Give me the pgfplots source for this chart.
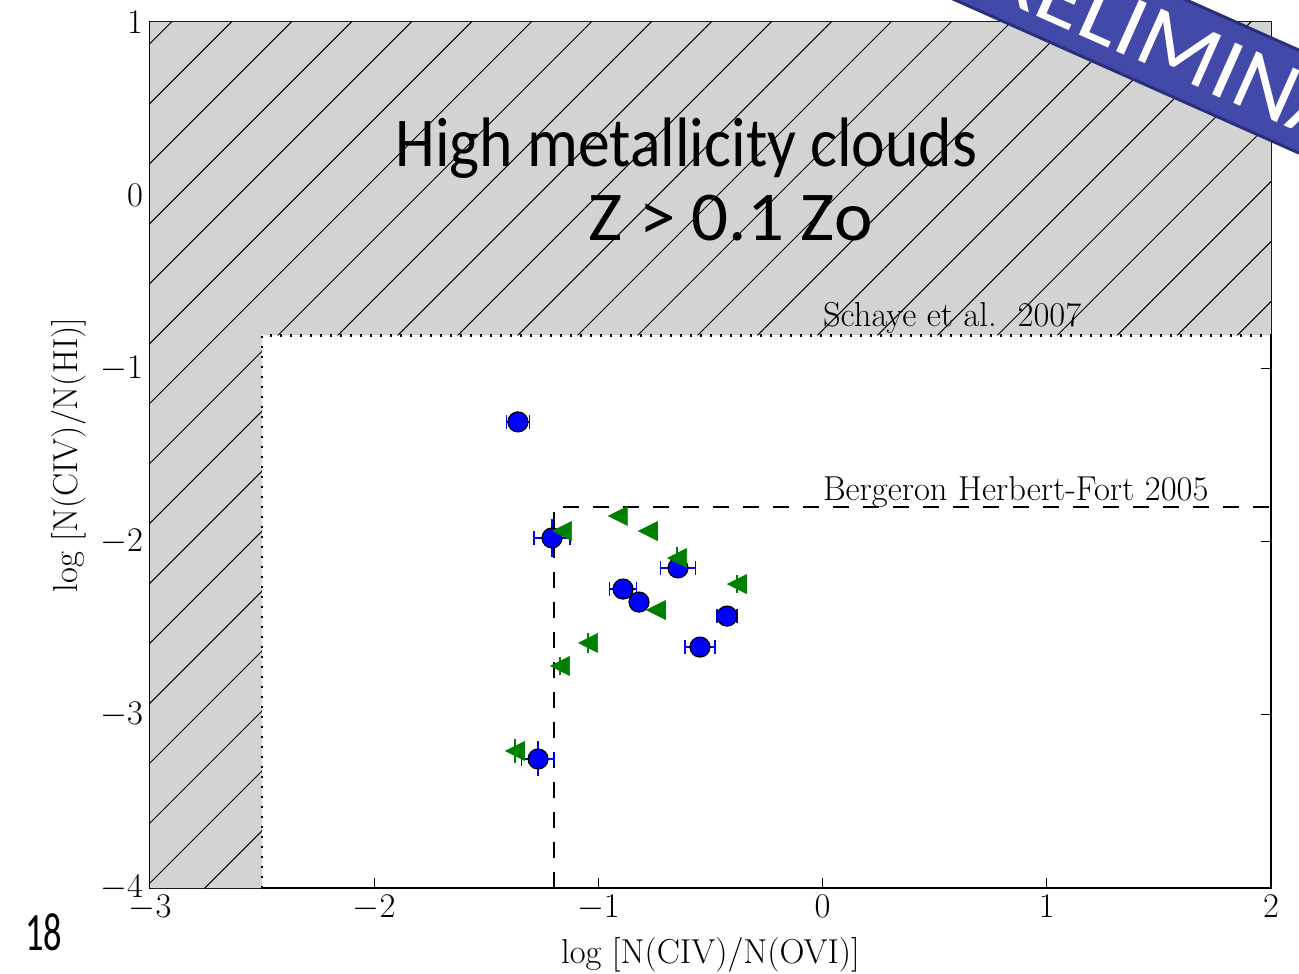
\documentclass[border=0pt]{standalone}
\usepackage{pgfplots}
\pgfplotsset{compat=1.18}
\usepackage{pgfplotstable}
\usepackage{fontspec}
\usepackage{graphicx}
\newfontfamily\gill{Carlito}
\usetikzlibrary{patterns.meta}

\definecolor{hatchgray}{RGB}{211,211,211}
\definecolor{mplgreen}{RGB}{0,128,0}
\definecolor{bannerblue}{RGB}{67,73,169}
\definecolor{bannerdark}{RGB}{42,47,125}

\pgfdeclareplotmark{mpltri}{%
  \pgfpathmoveto{\pgfqpoint{-\pgfplotmarksize}{0pt}}%
  \pgfpathlineto{\pgfqpoint{\pgfplotmarksize}{\pgfplotmarksize}}%
  \pgfpathlineto{\pgfqpoint{\pgfplotmarksize}{-\pgfplotmarksize}}%
  \pgfpathclose
  \pgfusepathqfillstroke}

\pgfplotstableread{
x      y       ex     ey
-1.359 -1.309  0.052  0
-1.207 -1.979  0.080  0.072
-0.645 -2.152  0.078  0
-0.890 -2.274  0.060  0
-0.819 -2.349  0.030  0
-0.426 -2.430  0.045  0
-0.547 -2.609  0.067  0
-1.269 -3.255  0.074  0.063
}\bluedata

\pgfplotstableread{
x      y       ey
-1.162 -1.939  0
-0.913 -1.852  0
-0.779 -1.939  0
-0.649 -2.095  0.065
-0.382 -2.245  0.050
-0.743 -2.395  0
-1.046 -2.585  0.058
-1.171 -2.718  0.050
-1.372 -3.209  0.070
}\greendata

\begin{document}
\begin{tikzpicture}
\begin{axis}[
  at={(0,0)}, anchor=south west,
  scale only axis, width=560.5pt, height=433pt,
  xmin=-3, xmax=2, ymin=-4, ymax=1,
  xtick={-3,-2,...,2}, ytick={-4,-3,...,1},
  tick align=inside, major tick length=5pt,
  every tick/.style={black, line width=0.5pt},
  axis line style={line width=1pt},
  tick label style={font=\fontsize{17.3}{20}\selectfont},
  label style={font=\fontsize{17.3}{20}\selectfont},
  xlabel={log [N(CIV)/N(OVI)]},
  ylabel={log [N(CIV)/N(HI)]},
  xlabel style={yshift=-2pt},
]
% hatched excluded region
\addplot[draw=none, fill=hatchgray, forget plot,
  postaction={pattern={Lines[angle=45,distance=21.2pt,line width=0.5pt]}}]
  coordinates {(-3,-4) (-2.5,-4) (-2.5,-0.81) (2,-0.81) (2,1) (-3,1)} -- cycle;
% Schaye dotted
\addplot[black, line width=1.1pt, dash pattern=on 1.1pt off 3.9pt, forget plot]
  coordinates {(-2.5,-4) (-2.5,-0.81) (2,-0.81)};
% Bergeron dashed
\addplot[black, line width=1pt, dash pattern=on 8pt off 7pt, forget plot]
  coordinates {(-1.2,-4) (-1.2,-1.8) (2,-1.8)};

\node[anchor=base west, inner sep=0, font=\fontsize{17.3}{20}\selectfont] at (axis cs:0,-0.76) {Schaye et al.\ \ 2007};
\node[anchor=base west, inner sep=0, font=\fontsize{17.3}{20}\selectfont] at (axis cs:0,-1.76) {Bergeron\ Herbert-Fort\ 2005};

% blue x error bars
\addplot[only marks, mark=none, forget plot,
  error bars/.cd, x dir=both, x explicit,
  error bar style={blue, line width=0.75pt},
  error mark=|, error mark options={blue, mark size=3.3pt, line width=0.75pt}]
  table[x=x, y=y, x error=ex] {\bluedata};
% blue y error bars
\addplot[only marks, mark=none, forget plot,
  error bars/.cd, y dir=both, y explicit,
  error bar style={blue, line width=0.75pt},
  error mark=-, error mark options={blue, mark size=3.3pt, line width=0.75pt}]
  table[x=x, y=y, y error=ey] {\bluedata};
% blue circles
\addplot[only marks, mark=*, mark size=5pt,
  mark options={fill=blue, draw=black, line width=0.6pt}]
  table[x=x, y=y] {\bluedata};

% green triangles
\addplot[only marks, mark=mpltri, mark size=4.75pt,
  mark options={fill=mplgreen, draw=mplgreen, line width=0.3pt},
  error bars/.cd, y dir=both, y explicit,
  error bar style={mplgreen, line width=1pt}, error mark=none]
  table[x=x, y=y, y error=ey] {\greendata};

\node[anchor=base west, inner sep=0] at (axis cs:-1.907,0.163)
  {\resizebox{291pt}{\height}{\gill\fontsize{35}{40}\selectfont High metallicity clouds}};
\node[anchor=base west, inner sep=0] at (axis cs:-1.046,-0.259)
  {\resizebox{142pt}{\height}{\gill\fontsize{35}{40}\selectfont Z > 0.1 Zo}};
\end{axis}

\node[anchor=base west, inner sep=0] at (-62.5pt,-31pt)
  {\resizebox{18.5pt}{\height}{\gill\fontsize{27}{30}\selectfont 18}};

\begin{scope}
\clip (-75pt,-42.5pt) rectangle (574.5pt,444pt);
\node[rotate=-24, fill=bannerblue, draw=bannerdark, line width=1.5pt, text=white,
  minimum width=500pt, minimum height=47pt, inner sep=0]
  at (521pt,417pt) {\scalebox{1.08}[1]{\gill\fontsize{44}{48}\selectfont PRELIMINARY}};
\end{scope}

\pgfresetboundingbox
\useasboundingbox (-75pt,-42.5pt) rectangle (574.5pt,444pt);
\end{tikzpicture}
\end{document}
